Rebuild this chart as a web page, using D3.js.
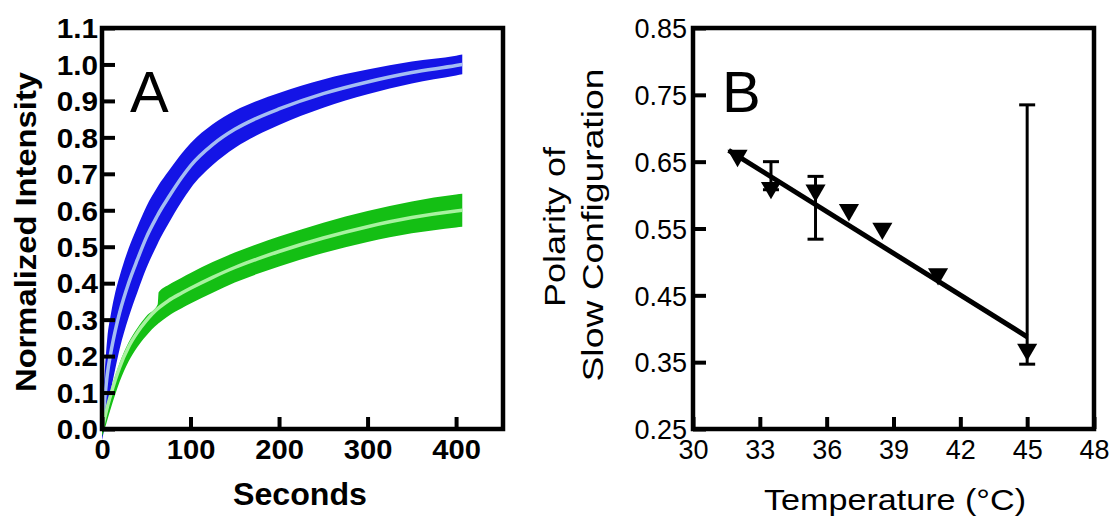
<!DOCTYPE html>
<html>
<head>
<meta charset="utf-8">
<script src="https://cdn.jsdelivr.net/npm/d3@7"></script>
<style>
  html, body { margin: 0; padding: 0; background: #ffffff; }
  svg { display: block; }
  text { font-family: "Liberation Sans", Arial, sans-serif; fill: #000; }
</style>
</head>
<body>
<svg id="chart" width="1114" height="518"></svg>
<script>
// ---------------- Panel A data ----------------
const timeSec     = [0, 3, 6, 10, 15, 20, 30, 40, 50, 63, 64, 75, 90, 100, 125, 150, 175, 200, 250, 300, 350, 400, 407];
const blueMean    = [0.0, 0.08, 0.15, 0.21, 0.27, 0.32, 0.40, 0.465, 0.525, 0.587, 0.5915, 0.635, 0.69, 0.722, 0.78, 0.822, 0.853, 0.878, 0.92, 0.952, 0.978, 0.997, 1.0];
const blueErr     = [0.03, 0.075, 0.10, 0.105, 0.105, 0.10, 0.095, 0.09, 0.085, 0.078, 0.0775, 0.072, 0.066, 0.062, 0.056, 0.051, 0.047, 0.044, 0.039, 0.034, 0.030, 0.027, 0.027];
const greenMean   = [0.0, 0.03, 0.06, 0.095, 0.135, 0.17, 0.225, 0.265, 0.297, 0.33, 0.332, 0.352, 0.373, 0.386, 0.416, 0.443, 0.466, 0.487, 0.524, 0.555, 0.58, 0.598, 0.6];
const greenErrUp  = [0.01, 0.012, 0.012, 0.012, 0.012, 0.012, 0.012, 0.012, 0.012, 0.012, 0.043, 0.043, 0.042, 0.042, 0.042, 0.041, 0.041, 0.041, 0.042, 0.043, 0.044, 0.045, 0.045];
const greenErrDn  = [0.02, 0.03, 0.035, 0.038, 0.04, 0.04, 0.04, 0.04, 0.041, 0.042, 0.042, 0.042, 0.042, 0.042, 0.042, 0.041, 0.041, 0.041, 0.041, 0.042, 0.043, 0.045, 0.045];
const xTicksA = [0, 100, 200, 300, 400];
const yTicksA = ["0.0","0.1","0.2","0.3","0.4","0.5","0.6","0.7","0.8","0.9","1.0","1.1"];

// ---------------- Panel B data ----------------
const tempC       = [32, 33.5, 35.5, 37, 38.5, 41, 45];
const polarity    = [0.656, 0.608, 0.604, 0.575, 0.547, 0.479, 0.366];
const errLow      = [0.656, 0.608, 0.534, 0.575, 0.547, 0.479, 0.347];
const errHigh     = [0.656, 0.650, 0.628, 0.575, 0.547, 0.479, 0.735];
const fitTemp     = [31.6, 45];
const fitPolarity = [0.667, 0.388];
const xTicksB = [30, 33, 36, 39, 42, 45, 48];
const yTicksB = ["0.25","0.35","0.45","0.55","0.65","0.75","0.85"];

const svg = d3.select("#chart");
svg.append("rect").attr("width", 1114).attr("height", 518).attr("fill", "#fff");

function fitText(sel, len) {
  sel.attr("textLength", len).attr("lengthAdjust", "spacingAndGlyphs");
}
function stretchText(sel, k) {
  sel.each(function () {
    const w = this.getComputedTextLength();
    d3.select(this).attr("textLength", w * k).attr("lengthAdjust", "spacingAndGlyphs");
  });
}

// ================= Panel A =================
const xA = d3.scaleLinear().domain([0, 453]).range([102, 503]);
const yA = d3.scaleLinear().domain([0, 1.1]).range([429, 28]);

const gA = svg.append("g");

const areaA = (mean, up, dn) => d3.area()
  .x((d, i) => xA(timeSec[i]))
  .y0((d, i) => yA(mean[i] - dn[i]))
  .y1((d, i) => yA(mean[i] + up[i]))
  .curve(d3.curveMonotoneX);
const lineA = (mean) => d3.line()
  .x((d, i) => xA(timeSec[i]))
  .y((d, i) => yA(mean[i]))
  .curve(d3.curveMonotoneX);

// blue
gA.append("path").datum(timeSec).attr("d", areaA(blueMean, blueErr, blueErr)).attr("fill", "#1414e6");
gA.append("path").datum(timeSec).attr("d", lineA(blueMean)).attr("fill", "none")
  .attr("stroke", "#a4bdf3").attr("stroke-width", 3.5);
// green
gA.append("path").datum(timeSec).attr("d", areaA(greenMean, greenErrUp, greenErrDn)).attr("fill", "#14bf14");
gA.append("path").datum(timeSec).attr("d", lineA(greenMean)).attr("fill", "none")
  .attr("stroke", "#a8f2a0").attr("stroke-width", 3.5);

// axes A
const axLA = d3.axisLeft(yA).tickValues(yTicksA.map(Number)).tickFormat((d, i) => yTicksA[i])
  .tickSizeInner(-13).tickSizeOuter(0).tickPadding(4);
const gyA = gA.append("g").attr("transform", "translate(102,0)").call(axLA);
const axBA = d3.axisBottom(xA).tickValues(xTicksA).tickFormat(d3.format("d"))
  .tickSizeInner(-12).tickSizeOuter(0).tickPadding(11);
const gxA = gA.append("g").attr("transform", "translate(0,429)").call(axBA);
[gyA, gxA].forEach(g => {
  g.select(".domain").remove();
  g.selectAll(".tick line").attr("stroke", "#000").attr("stroke-width", 4);
  g.selectAll(".tick text").style("font-size", "27px").style("font-weight", "bold")
    .style("font-family", "'Liberation Sans', Arial, sans-serif").attr("fill", "#000");
});
gyA.selectAll(".tick text").attr("dy", "0.36em").call(stretchText, 1.1);
gxA.selectAll(".tick text").attr("dy", "0.72em").call(stretchText, 1.08);

gA.append("rect").attr("x", xA(0)).attr("y", yA(1.1)).attr("width", xA(453) - xA(0)).attr("height", yA(0) - yA(1.1))
  .attr("fill", "none").attr("stroke", "#000").attr("stroke-width", 4.5);

gA.append("text").attr("x", 130).attr("y", 112).style("font-size", "58px").text("A");
gA.append("text").attr("x", 300).attr("y", 505).attr("text-anchor", "middle")
  .style("font-size", "32px").style("font-weight", "bold").text("Seconds").call(fitText, 134);
gA.append("text").attr("transform", "translate(36,232) rotate(-90)").attr("text-anchor", "middle")
  .style("font-size", "29px").style("font-weight", "bold").text("Normalized Intensity").call(fitText, 320);

// ================= Panel B =================
const xB = d3.scaleLinear().domain([30, 48]).range([693, 1094]);
const yB = d3.scaleLinear().domain([0.25, 0.85]).range([429, 28]);
const gB = svg.append("g");

// fit line
gB.append("path").datum(fitTemp).attr("d", d3.line().x((d, i) => xB(fitTemp[i])).y((d, i) => yB(fitPolarity[i])))
  .attr("stroke", "#000").attr("stroke-width", 5).attr("fill", "none");

// error bars
const eb = gB.append("g").selectAll("g").data(tempC.map((t, i) => i).filter(i => errHigh[i] !== errLow[i]))
  .join("g");
eb.append("line").attr("x1", i => xB(tempC[i])).attr("x2", i => xB(tempC[i]))
  .attr("y1", i => yB(errLow[i])).attr("y2", i => yB(errHigh[i])).attr("stroke", "#000").attr("stroke-width", 3);
eb.append("line").attr("x1", i => xB(tempC[i]) - 8).attr("x2", i => xB(tempC[i]) + 8)
  .attr("y1", i => yB(errLow[i])).attr("y2", i => yB(errLow[i])).attr("stroke", "#000").attr("stroke-width", 3);
eb.append("line").attr("x1", i => xB(tempC[i]) - 8).attr("x2", i => xB(tempC[i]) + 8)
  .attr("y1", i => yB(errHigh[i])).attr("y2", i => yB(errHigh[i])).attr("stroke", "#000").attr("stroke-width", 3);

// markers (down triangles)
gB.append("g").selectAll("path").data(tempC).join("path")
  .attr("d", d3.symbol(d3.symbolTriangle, 175))
  .attr("transform", (d, i) => `translate(${xB(d)},${yB(polarity[i]) - 2}) rotate(180)`)
  .attr("fill", "#000");

// axes B
const axLB = d3.axisLeft(yB).tickValues(yTicksB.map(Number)).tickFormat((d, i) => yTicksB[i])
  .tickSizeInner(-13).tickSizeOuter(0).tickPadding(6);
const gyB = gB.append("g").attr("transform", "translate(693,0)").call(axLB);
const axBB = d3.axisBottom(xB).tickValues(xTicksB).tickFormat(d3.format("d"))
  .tickSizeInner(-12).tickSizeOuter(0).tickPadding(11);
const gxB = gB.append("g").attr("transform", "translate(0,429)").call(axBB);
[gyB, gxB].forEach(g => {
  g.select(".domain").remove();
  g.selectAll(".tick line").attr("stroke", "#000").attr("stroke-width", 4);
  g.selectAll(".tick text").style("font-size", "27px")
    .style("font-family", "'Liberation Sans', Arial, sans-serif").attr("fill", "#000");
});
gyB.selectAll(".tick text").attr("dy", "0.36em");
gxB.selectAll(".tick text").attr("dy", "0.72em");

gB.append("rect").attr("x", xB(30)).attr("y", yB(0.85)).attr("width", xB(48) - xB(30)).attr("height", yB(0.25) - yB(0.85))
  .attr("fill", "none").attr("stroke", "#000").attr("stroke-width", 4.5);

gB.append("text").attr("x", 722).attr("y", 112).style("font-size", "58px").text("B");
gB.append("text").attr("x", 895).attr("y", 510).attr("text-anchor", "middle")
  .style("font-size", "29px").text("Temperature (\u00B0C)").call(fitText, 262);
gB.append("text").attr("transform", "translate(565,227) rotate(-90)").attr("text-anchor", "middle")
  .style("font-size", "30px").text("Polarity of").call(fitText, 160);
gB.append("text").attr("transform", "translate(603,225) rotate(-90)").attr("text-anchor", "middle")
  .style("font-size", "30px").text("Slow Configuration").call(fitText, 313);
</script>
</body>
</html>
